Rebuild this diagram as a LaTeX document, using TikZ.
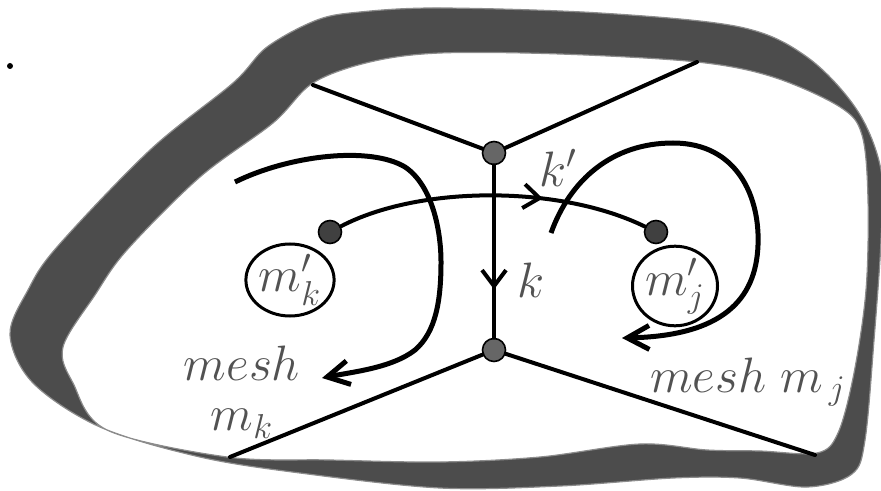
\documentclass[tikz,border=0pt]{standalone}
\usepackage{amsmath,amssymb}
\usepackage{tikz}
\usetikzlibrary{arrows.meta,shapes.geometric,decorations.markings}

\begin{document}
\begin{tikzpicture}[
    x=0.5pt, y=-0.5pt,
    band/.style={fill=black!70, draw=black!45, line width=0.6pt, even odd rule},
    edge/.style={line width=2pt, line cap=round},
    loop/.style={line width=2.5pt, -{Straight Barb[length=11pt,width=12pt,line width=2.5pt]}},
    vert/.style={circle, draw, line width=0.8pt, fill=black!60, minimum size=11.5pt, inner sep=0pt},
    pt/.style={circle, draw, line width=0.8pt, fill=black!75, minimum size=11.5pt, inner sep=0pt},
    mesh/.style={ellipse, draw, line width=1.5pt, inner sep=0pt, text=black!68, font=\fontsize{23}{25}\selectfont},
    lbl/.style={text=black!68, font=\fontsize{23}{25}\selectfont, inner sep=0pt},
    midarr/.style={postaction={decorate}, decoration={markings, mark=at position #1 with {\arrow{Straight Barb[length=8pt,width=12pt,line width=2pt]}}}}
]
\useasboundingbox (0,0) rectangle (881,491);

\fill[band]
  plot[smooth cycle, tension=0.55] coordinates {(440,8) (600,13) (740,27) (807,57) (857,110) (881,170) (881,240) (874,340) (865,440) (852,474) (807,487) (740,478) (673,478) (560,486) (440,488) (300,473) (200,457) (100,427) (33,383) (10,335) (28,290) (57,247) (150,150) (233,83) (267,47) (317,20) (360,12)}
  plot[smooth cycle, tension=0.55] coordinates {(440,53) (560,54) (697,62) (773,77) (840,107) (862,135) (868,200) (866,290) (854,373) (838,433) (817,453) (760,451) (707,450) (640,444) (540,457) (440,462) (330,460) (227,457) (107,430) (73,383) (63,347) (95,295) (127,250) (200,177) (273,123) (313,83) (370,62)};

\fill (10,66) circle[radius=3];

\coordinate (tl) at (313,85);
\coordinate (tr) at (697,62);
\coordinate (bl) at (230,457);
\coordinate (br) at (815,455);

\node[vert] (vtop) at (494,153) {};
\node[vert] (vbot) at (494,350) {};

\draw[edge] (tl) -- (vtop);
\draw[edge] (vtop) -- (tr);
\draw[edge] (bl) -- (vbot);
\draw[edge] (vbot) -- (br);
\draw[edge, midarr=0.72] (vtop) -- (vbot);

\node[pt] (dk) at (330,232) {};
\node[pt] (dj) at (656,232) {};
\draw[edge, midarr=0.66] (dk) .. controls (420,185) and (560,185) .. (dj);

\coordinate (lstart) at (235,182);
\coordinate (lend) at (322,378);
\draw[loop] (lstart) .. controls (290,155) and (370,146) .. (405,167)
  .. controls (432,185) and (441,230) .. (441,262)
  .. controls (441,300) and (436,332) .. (415,350)
  .. controls (392,368) and (352,372) .. (lend);

\coordinate (rstart) at (551,233);
\coordinate (rend) at (622,338);
\draw[loop] (rstart) .. controls (570,180) and (612,143) .. (673,143)
  .. controls (738,143) and (760,198) .. (758,245)
  .. controls (756,300) and (722,336) .. (rend);

\node[mesh, minimum width=42.5pt, minimum height=36pt] (mk) at (290,280) {$m'_k$};
\node[mesh, minimum width=42.5pt, minimum height=39pt] (mj) at (675,286) {$m'_j$};

\node[lbl] (kp) at (558,168) {$k'$};
\node[lbl] (k) at (531,280) {$k$};
\node[lbl, align=center, font=\fontsize{23}{25}\selectfont] (meshk) at (242,392) {$mesh$\\$m_k$};
\node[lbl, anchor=base] (meshj) at (748,392) {$mesh\ m_{\,j}$};
\end{tikzpicture}
\end{document}
